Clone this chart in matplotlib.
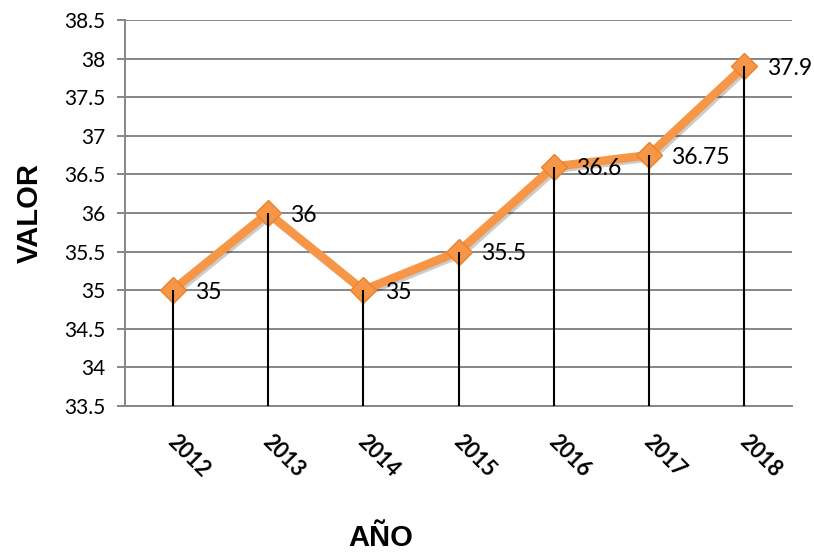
import matplotlib
matplotlib.use("Agg")
import matplotlib.pyplot as plt
import matplotlib.patheffects as pe
from matplotlib.transforms import offset_copy

years = ["2012", "2013", "2014", "2015", "2016", "2017", "2018"]
values = [35, 36, 35, 35.5, 36.6, 36.75, 37.9]
value_labels = ["35", "36", "35", "35.5", "36.6", "36.75", "37.9"]
yticks = [33.5, 34, 34.5, 35, 35.5, 36, 36.5, 37, 37.5, 38, 38.5]
ytick_labels = ["33.5", "34", "34.5", "35", "35.5", "36", "36.5", "37", "37.5", "38", "38.5"]

plt.rcParams['font.family'] = ['Lato', 'DejaVu Sans']

fig = plt.figure(figsize=(8.14, 5.57), dpi=100)
ax = fig.add_axes([125/814, 1-406/557, (792-125)/814, (406-20)/557])

x = list(range(len(years)))
ax.set_xlim(-0.5, len(years)-0.5)
ax.set_ylim(33.5, 38.5)

grid_c = '#868686'
ax.set_yticks(yticks)
ax.set_yticklabels(ytick_labels, fontsize=15)
ax.grid(axis='y', color=grid_c, linewidth=1.4, zorder=0)
ax.set_axisbelow(True)
ax.tick_params(axis='y', length=6, width=1.4, color=grid_c, pad=8)
for s in ['top', 'right']:
    ax.spines[s].set_visible(False)
for s in ['left', 'bottom']:
    ax.spines[s].set_color(grid_c)
    ax.spines[s].set_linewidth(1.4)

ax.set_xticks(x)
ax.set_xticklabels([])
ax.tick_params(axis='x', length=0)
for xi, lab in zip(x, years):
    tr = offset_copy(ax.get_xaxis_transform(), fig=fig, x=-2, y=-32, units='dots')
    ax.text(xi, 0, lab, transform=tr, rotation=-45, rotation_mode='anchor',
            ha='left', va='center', fontsize=15.5, fontweight='bold')

orange = '#F79646'
ax.plot(x, values, color=orange, linewidth=6.2, solid_capstyle='round', zorder=3,
        path_effects=[pe.SimpleLineShadow(offset=(1.5, -1.5), alpha=0.2), pe.Normal()])
ax.plot(x, values, linestyle='none', zorder=3.5,
        marker='D', markersize=13, markerfacecolor=orange, markeredgecolor='#E8822F',
        markeredgewidth=1)
ax.vlines(x, 33.5, values, color='black', linewidth=1.5, zorder=4)

for xi, v, lab in zip(x, values, value_labels):
    ax.annotate(lab, (xi, v), xytext=(16, -1.5), textcoords='offset points',
                ha='left', va='center', fontsize=16.5, zorder=5)

fig.text(30/814, 1-213/557, 'VALOR', rotation=90, ha='center', va='center',
         fontsize=21, fontweight='bold', family=['Liberation Sans Narrow', 'Liberation Sans', 'DejaVu Sans'])
fig.text(381/814, 1-538/557, 'AÑO', ha='center', va='center',
         fontsize=21, fontweight='bold', family=['Liberation Sans Narrow', 'Liberation Sans', 'DejaVu Sans'])

fig.savefig('out.png', dpi=100)
